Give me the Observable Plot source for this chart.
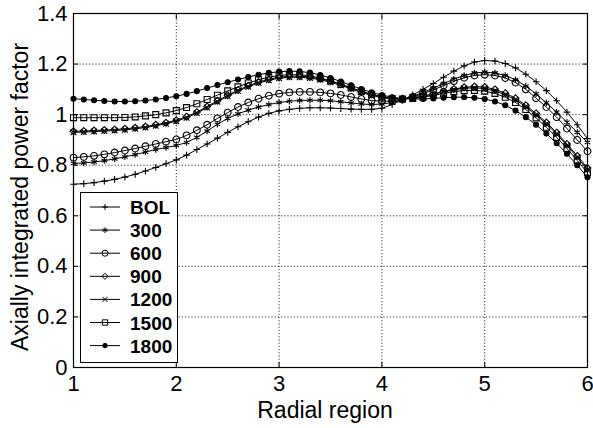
<!DOCTYPE html>
<html><head><meta charset="utf-8">
<script src="https://cdn.jsdelivr.net/npm/d3@7"></script>
<script src="https://cdn.jsdelivr.net/npm/@observablehq/plot@0.6"></script>
<style>
html,body{margin:0;padding:0;background:#fff}
#chart svg{font-family:"Liberation Sans",Arial,Helvetica,sans-serif;display:block}
</style>
</head><body><div id="chart"></div>
<script>
// Radial positions sampled along the curves
const radial = [1.0,1.1,1.2,1.3,1.4,1.5,1.6,1.7,1.8,1.9,
  2.0,2.1,2.2,2.3,2.4,2.5,2.6,2.7,2.8,2.9,
  3.0,3.1,3.2,3.3,3.4,3.5,3.6,3.7,3.8,3.9,
  4.0,4.1,4.2,4.3,4.4,4.5,4.6,4.7,4.8,4.9,
  5.0,5.1,5.2,5.3,5.4,5.5,5.6,5.7,5.8,5.9,6.0];

const seriesNames = ["BOL","300","600","900","1200","1500","1800"];

const bol = [0.725,0.727,0.731,0.737,0.744,0.753,0.764,0.777,0.791,0.806,
  0.821,0.840,0.862,0.884,0.907,0.930,0.952,0.972,0.990,1.005,
  1.015,1.021,1.025,1.027,1.027,1.026,1.024,1.022,1.021,1.021,
  1.025,1.040,1.058,1.078,1.100,1.123,1.148,1.172,1.193,1.208,
  1.214,1.212,1.202,1.185,1.160,1.130,1.095,1.055,1.010,0.960,0.905];

const s300 = [0.807,0.809,0.813,0.818,0.825,0.833,0.842,0.852,0.862,0.870,
  0.878,0.890,0.910,0.935,0.962,0.985,1.003,1.018,1.030,1.040,
  1.048,1.053,1.056,1.057,1.057,1.055,1.051,1.046,1.042,1.040,
  1.042,1.048,1.058,1.072,1.088,1.105,1.123,1.140,1.155,1.165,
  1.168,1.165,1.155,1.138,1.113,1.082,1.047,1.010,0.970,0.930,0.890];

const s600 = [0.830,0.833,0.837,0.843,0.850,0.858,0.866,0.875,0.884,0.893,
  0.902,0.918,0.938,0.960,0.985,1.008,1.030,1.048,1.063,1.075,
  1.083,1.088,1.090,1.090,1.088,1.084,1.078,1.070,1.062,1.056,
  1.053,1.054,1.060,1.070,1.083,1.098,1.115,1.132,1.146,1.155,
  1.158,1.155,1.145,1.127,1.100,1.065,1.030,0.990,0.945,0.900,0.855];

const s900 = [0.934,0.935,0.937,0.939,0.941,0.944,0.948,0.953,0.960,0.968,
  0.978,0.992,1.010,1.032,1.055,1.077,1.097,1.114,1.129,1.140,
  1.148,1.152,1.152,1.149,1.142,1.132,1.120,1.106,1.092,1.080,
  1.070,1.064,1.063,1.066,1.073,1.082,1.092,1.101,1.108,1.111,
  1.109,1.100,1.085,1.065,1.037,1.005,0.969,0.929,0.884,0.837,0.789];

const s1200 = [0.930,0.931,0.933,0.935,0.937,0.940,0.944,0.949,0.956,0.964,
  0.974,0.988,1.006,1.028,1.051,1.073,1.093,1.110,1.125,1.136,
  1.144,1.148,1.148,1.145,1.138,1.128,1.116,1.102,1.088,1.076,
  1.067,1.062,1.062,1.066,1.073,1.081,1.090,1.098,1.104,1.106,
  1.103,1.094,1.079,1.059,1.031,0.999,0.963,0.923,0.878,0.831,0.782];

const s1500 = [0.988,0.988,0.988,0.988,0.988,0.989,0.991,0.995,1.000,1.007,
  1.016,1.028,1.043,1.060,1.077,1.094,1.110,1.125,1.138,1.148,
  1.155,1.158,1.158,1.153,1.145,1.134,1.120,1.106,1.092,1.080,
  1.070,1.064,1.062,1.064,1.069,1.076,1.084,1.091,1.095,1.096,
  1.093,1.084,1.069,1.048,1.020,0.987,0.950,0.910,0.866,0.819,0.770];

const s1800 = [1.063,1.060,1.057,1.054,1.052,1.052,1.053,1.056,1.060,1.066,
  1.073,1.082,1.093,1.105,1.117,1.128,1.139,1.149,1.158,1.165,
  1.170,1.172,1.171,1.166,1.157,1.145,1.131,1.116,1.101,1.088,
  1.077,1.069,1.064,1.062,1.062,1.064,1.067,1.069,1.069,1.067,
  1.062,1.052,1.037,1.016,0.990,0.960,0.925,0.887,0.845,0.800,0.752];

const xTicks = [1,2,3,4,5,6];
const yTicks = [0,0.2,0.4,0.6,0.8,1.0,1.2,1.4];

// Marker style per series (MATLAB-like markers)
const markerStyle = {
  "BOL": {symbol:"plus", r:2.3, fill:"none"},
  "300": {symbol:"asterisk", r:3.0, fill:"none"},
  "600": {symbol:"circle", r:3.4, fill:"none"},
  "900": {symbol:"diamond2", r:3.1, fill:"none"},
  "1200": {symbol:"times", r:2.7, fill:"none"},
  "1500": {symbol:"square2", r:3.8, fill:"none"},
  "1800": {symbol:"circle", r:2.5, fill:"black"}
};

const valuesBySeries = [bol, s300, s600, s900, s1200, s1500, s1800];
const data = [];
seriesNames.forEach((name, k) => {
  valuesBySeries[k].forEach((v, i) => data.push({series: name, x: radial[i], y: v}));
});

const W = 593, H = 428;
const dotMarks = seriesNames.map(name => {
  const m = markerStyle[name];
  return Plot.dot(data.filter(d => d.series === name), {
    x: "x", y: "y", symbol: () => m.symbol, r: m.r,
    fill: m.fill, stroke: "black", strokeWidth: 1.1
  });
});

const plot = Plot.plot({
  width: W, height: H,
  marginLeft: 73, marginRight: 6, marginTop: 13, marginBottom: 61,
  x: {domain: [1, 6]},
  y: {domain: [0, 1.4]},
  symbol: {type: "identity"},
  style: {fontFamily: "'Liberation Sans', Arial, sans-serif", color: "black", background: "white"},
  marks: [
    Plot.gridX(xTicks, {stroke: "black", strokeOpacity: 1, strokeWidth: 0.8, strokeDasharray: "1.2,2"}),
    Plot.gridY(yTicks, {stroke: "black", strokeOpacity: 1, strokeWidth: 0.8, strokeDasharray: "1.2,2"}),
    Plot.axisX(xTicks, {tickSize: 0, tickPadding: 8, fontSize: 22, label: null, tickFormat: d => String(d)}),
    Plot.axisY(yTicks, {tickSize: 0, tickPadding: 6, fontSize: 22, label: null, tickFormat: d => String(Math.round(d * 10) / 10)}),
    Plot.axisX(xTicks, {anchor: "bottom", tickSize: -5, text: null, label: null, strokeWidth: 1}),
    Plot.axisX(xTicks, {anchor: "top", tickSize: -5, text: null, label: null, strokeWidth: 1}),
    Plot.axisY(yTicks, {anchor: "left", tickSize: -5, text: null, label: null, strokeWidth: 1}),
    Plot.axisY(yTicks, {anchor: "right", tickSize: -5, text: null, label: null, strokeWidth: 1}),
    Plot.line(data, {x: "x", y: "y", z: "series", stroke: "black", strokeWidth: 1}),
    ...dotMarks,
    Plot.frame({stroke: "black", strokeWidth: 1.2})
  ]
});

document.getElementById("chart").appendChild(plot);

// Axis titles and legend
const svg = d3.select(plot);
svg.append("text")
  .attr("x", 325).attr("y", 418)
  .attr("text-anchor", "middle")
  .style("font-size", "23px").style("fill", "black")
  .text("Radial region");
svg.append("text")
  .attr("transform", "translate(28,197) rotate(-90)")
  .attr("text-anchor", "middle")
  .style("font-size", "23px").style("fill", "black")
  .text("Axially integrated power factor");

const leg = svg.append("g");
leg.append("rect").attr("x", 80.5).attr("y", 192.5).attr("width", 97).attr("height", 170)
  .attr("fill", "white").attr("stroke", "black").attr("stroke-width", 1);
const symMap = {plus: d3.symbolPlus, asterisk: d3.symbolAsterisk, circle: d3.symbolCircle,
  diamond2: d3.symbolDiamond2, times: d3.symbolTimes, square2: d3.symbolSquare2};
seriesNames.forEach((name, i) => {
  const cy = 207 + i * 23.1;
  const m = markerStyle[name];
  leg.append("line").attr("x1", 90).attr("x2", 120).attr("y1", cy).attr("y2", cy)
    .attr("stroke", "black").attr("stroke-width", 1);
  leg.append("path").attr("transform", `translate(105,${cy})`)
    .attr("d", d3.symbol(symMap[m.symbol], Math.PI * m.r * m.r * 0.8)())
    .attr("fill", m.fill).attr("stroke", "black").attr("stroke-width", 1);
  leg.append("text").attr("x", 130).attr("y", cy + 7)
    .attr("text-anchor", "start")
    .style("font-size", "19px").style("font-weight", "bold").style("fill", "black")
    .text(name);
});
</script>
</body></html>
